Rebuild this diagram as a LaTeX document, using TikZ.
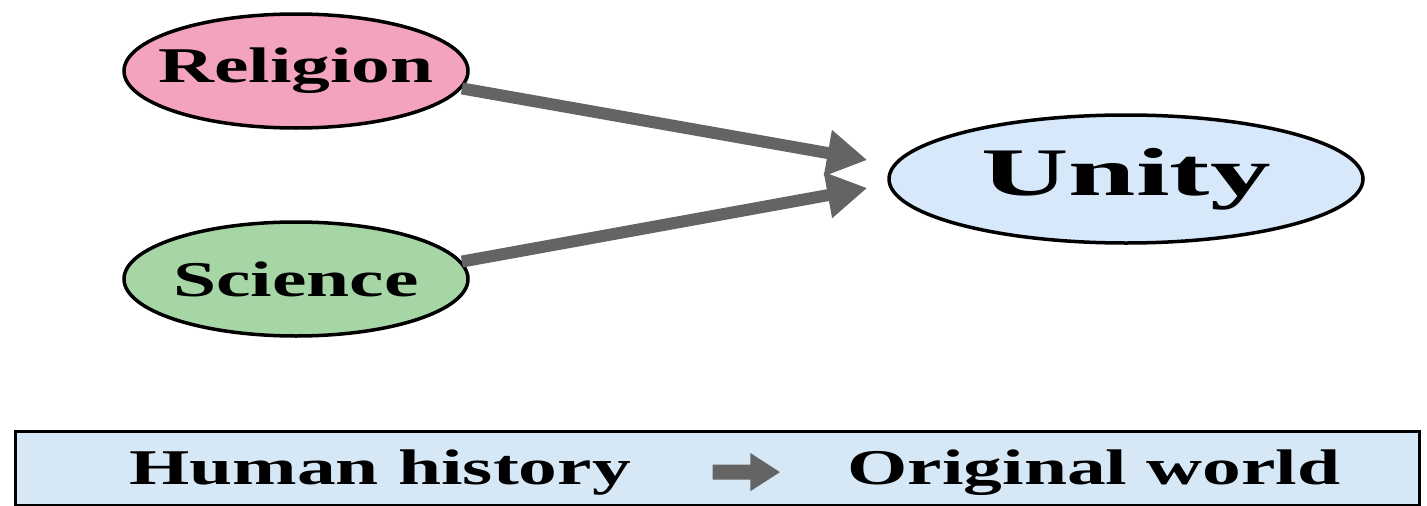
\documentclass[tikz,border=0pt]{standalone}
\usepackage{fontspec}
\setmainfont{Liberation Serif}
\usetikzlibrary{arrows.meta,shapes.geometric}
\definecolor{relpink}{RGB}{243,164,188}
\definecolor{scigreen}{RGB}{166,214,166}
\definecolor{unitblue}{RGB}{214,232,250}
\definecolor{bandblue}{RGB}{214,232,246}
\definecolor{arrowgray}{RGB}{100,100,100}
\newcommand{\wide}[2][1.55]{\makebox[0pt]{\scalebox{#1}[1]{#2}}}
\begin{document}
\begin{tikzpicture}[x=1pt,y=-1pt,
  bubble/.style={ellipse, draw=black, line width=3.5pt, inner sep=0pt},
  bigarrow/.style={-{Triangle[length=40pt,width=44pt]}, line width=12pt, draw=arrowgray},
  smallfont/.style={font=\bfseries\fontsize{50}{54}\selectfont}]
\useasboundingbox (0,0) rectangle (1427,506);
% Nodos
\node [bubble, fill=relpink, minimum width=344pt, minimum height=114pt, smallfont] (rel) at (296,71) {\wide{Religion}};
\node [bubble, fill=scigreen, minimum width=344pt, minimum height=114pt, smallfont] (sci) at (296,279) {\wide{Science}};
\node [bubble, fill=unitblue, minimum width=474pt, minimum height=128pt, font=\bfseries\fontsize{68}{72}\selectfont] (unity) at (1126,179) {\wide[1.78]{Unity}};
% Flechas
\draw [bigarrow] (rel.-6) -- ([xshift=-20pt,yshift=19pt]unity.west);
\draw [bigarrow] (sci.6) -- ([xshift=-20pt,yshift=-9pt]unity.west);
% Banda
\node [draw=black, line width=3pt, fill=bandblue, anchor=north west, minimum width=1404pt, minimum height=74pt, inner sep=0pt] (band) at (14,430) {};
\node [smallfont, anchor=base, inner sep=0pt] (hist) at (380,484) {\wide{Human history}};
\node [smallfont, anchor=base, inner sep=0pt] (orig) at (1094,484) {\wide{Original world}};
\draw [-{Triangle[length=30pt,width=36pt]}, line width=15pt, draw=arrowgray, shorten <=332pt, shorten >=313pt] (hist) -- (orig);
\end{tikzpicture}
\end{document}
